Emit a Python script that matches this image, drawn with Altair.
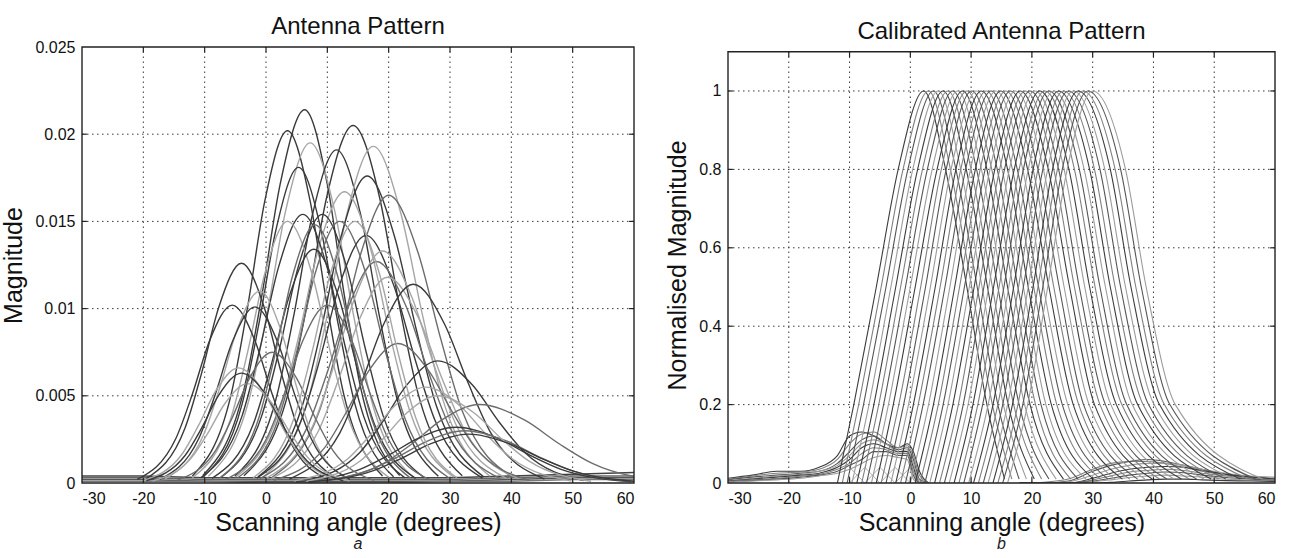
import altair as alt
import pandas as pd

FONT = "Liberation Sans"

# ---- axes ----
X_TICKS = [-30, -20, -10, 0, 10, 20, 30, 40, 50, 60]
A_Y_TICKS = [0, 0.005, 0.01, 0.015, 0.02, 0.025]
B_Y_TICKS = [0, 0.2, 0.4, 0.6, 0.8, 1]

# ---- panel a: raw beam magnitudes ----
# each beam: peak height and the angles where it passes the listed fractions of that peak
A_FRACTIONS = [0.02, 0.25, 0.5, 0.8, 1.0, 0.8, 0.5, 0.25, 0.02]
A_PEAKS = [0.0214, 0.0202, 0.0205, 0.0195, 0.0191, 0.0193, 0.0181, 0.0176, 0.0165, 0.0167,
           0.0154, 0.0154, 0.0150, 0.0150, 0.0142, 0.0133, 0.0134, 0.0127, 0.0118, 0.0114,
           0.0126, 0.0102, 0.0110, 0.0101, 0.0102, 0.0080, 0.0070, 0.0055, 0.0045, 0.0032,
           0.0030, 0.0066, 0.0063, 0.0057, 0.0075, 0.0050, 0.0028, 0.0148, 0.0150]
A_CROSSINGS = [
    [-10.3, -3.6, -0.7, 2.3, 6.3, 10.0, 12.8, 15.5, 21.8],
    [-12.0, -5.7, -3.0, -0.2, 3.5, 7.2, 10.0, 12.7, 19.0],
    [-3.6, 3.6, 6.7, 9.9, 14.2, 18.5, 21.7, 24.8, 32.0],
    [-9.4, -2.7, 0.2, 3.2, 7.2, 11.2, 14.2, 17.1, 23.8],
    [-5.1, 1.6, 4.5, 7.5, 11.5, 15.5, 18.5, 21.4, 28.1],
    [-0.3, 6.9, 10.0, 13.2, 17.5, 22.0, 25.5, 28.8, 36.5],
    [-10.2, -3.9, -1.2, 1.6, 5.3, 9.0, 11.8, 14.5, 20.8],
    [-1.3, 5.9, 9.0, 12.2, 16.5, 21.0, 24.5, 27.8, 35.5],
    [1.0, 8.7, 12.0, 15.5, 20.0, 24.8, 28.5, 32.0, 40.2],
    [-5.0, 2.2, 5.3, 8.5, 12.8, 17.1, 20.3, 23.4, 30.6],
    [-10.6, -3.9, -1.0, 2.0, 6.0, 10.0, 13.0, 15.9, 22.6],
    [-7.4, -0.7, 2.2, 5.2, 9.2, 13.2, 16.2, 19.1, 25.8],
    [-4.6, 2.1, 5.0, 8.0, 12.0, 16.3, 19.5, 22.6, 29.8],
    [-12.0, -5.7, -3.0, -0.2, 3.5, 7.5, 10.5, 13.4, 20.1],
    [-1.5, 5.7, 8.8, 12.0, 16.3, 20.8, 24.3, 27.6, 35.3],
    [0.0, 7.7, 11.0, 14.5, 19.0, 23.8, 27.5, 31.0, 39.2],
    [-8.8, -2.1, 0.8, 3.8, 7.8, 11.8, 14.8, 17.7, 24.4],
    [-1.0, 6.7, 10.0, 13.5, 18.0, 22.8, 26.5, 30.0, 38.2],
    [0.8, 8.5, 11.8, 15.3, 19.8, 24.9, 28.8, 32.5, 41.2],
    [3.8, 12.0, 15.5, 19.2, 24.0, 29.1, 33.0, 36.7, 45.4],
    [-19.5, -13.2, -10.5, -7.7, -4.0, -0.3, 2.5, 5.2, 11.5],
    [-21.0, -14.7, -12.0, -9.2, -5.5, -1.8, 1.0, 3.7, 10.0],
    [-16.5, -10.2, -7.5, -4.7, -1.0, 2.4, 5.0, 7.5, 13.3],
    [-17.3, -11.0, -8.3, -5.5, -1.8, 1.9, 4.7, 7.4, 13.7],
    [-6.6, 0.1, 3.0, 6.0, 10.0, 14.0, 17.0, 19.9, 26.6],
    [1.3, 9.5, 13.0, 16.7, 21.5, 26.6, 30.5, 34.2, 42.9],
    [6.6, 15.3, 19.0, 22.9, 28.0, 33.7, 38.0, 42.2, 51.8],
    [4.6, 13.3, 17.0, 20.9, 26.0, 31.7, 36.0, 40.2, 49.8],
    [8.7, 19.2, 23.8, 28.6, 34.8, 42.2, 47.8, 53.2, 65.7],
    [4.9, 15.4, 20.0, 24.8, 31.0, 37.8, 43.0, 48.0, 59.5],
    [6.4, 16.9, 21.5, 26.3, 32.5, 39.3, 44.5, 49.5, 61.0],
    [-20.0, -13.7, -11.0, -8.2, -4.5, -0.5, 2.5, 5.4, 12.1],
    [-19.5, -13.2, -10.5, -7.7, -4.0, 0.0, 3.0, 5.9, 12.6],
    [-18.5, -12.2, -9.5, -6.7, -3.0, 1.0, 4.0, 6.9, 13.6],
    [-14.5, -8.2, -5.5, -2.7, 1.0, 5.0, 8.0, 10.9, 17.6],
    [6.6, 15.3, 19.0, 22.9, 28.0, 34.0, 38.5, 42.9, 53.0],
    [6.9, 17.4, 22.0, 26.8, 33.0, 39.8, 45.0, 50.0, 61.5],
    [-7.5, -1.2, 1.5, 4.3, 8.0, 11.7, 14.5, 17.2, 23.5],
    [-2.1, 4.6, 7.5, 10.5, 14.5, 18.5, 21.5, 24.4, 31.1],
]
A_SHADES = "dddldldd" "mlddmldl" "dmldddld" "mmdlmdml" "dlmldml"

# residual floor running along the bottom of panel a
A_FLOOR_X = [-30, -20, -10, 0, 10, 20, 30, 40, 50, 60]
A_FLOOR = [
    [0.0004, 0.0004, 0.0003, 0.0003, 0.0003, 0.0003, 0.0003, 0.0004, 0.0005, 0.0006],
    [0.0003, 0.0003, 0.0002, 0.0002, 0.0002, 0.0002, 0.0002, 0.0003, 0.0004, 0.0004],
    [0.0002, 0.0002, 0.0001, 0.0001, 0.0001, 0.0001, 0.0001, 0.0002, 0.0003, 0.0003],
    [0.0001, 0.0001, 0.0001, 0.0000, 0.0000, 0.0000, 0.0001, 0.0001, 0.0002, 0.0002],
]

# ---- panel b: calibrated (normalised) beams ----
B_LEVELS = [0.0, 0.2, 0.5, 0.8, 1.0, 0.8, 0.5, 0.2, 0.01]
B_CROSSINGS = [
    [-12.0, -9.3, -5.6, -2.0, 2.2, 5.8, 9.3, 12.6, 15.5],
    [-11.2, -8.5, -4.8, -1.2, 3.0, 6.6, 10.1, 13.5, 16.7],
    [-10.4, -7.7, -4.0, -0.4, 3.8, 7.5, 11.0, 14.4, 17.9],
    [-9.6, -6.8, -3.2, 0.4, 4.6, 8.3, 11.8, 15.3, 19.1],
    [-8.8, -6.0, -2.4, 1.2, 5.4, 9.2, 12.7, 16.1, 20.4],
    [-8.0, -5.2, -1.6, 2.0, 6.2, 10.0, 13.5, 17.0, 21.6],
    [-7.2, -4.4, -0.8, 2.8, 7.0, 10.9, 14.4, 17.9, 22.8],
    [-6.4, -3.6, 0.0, 3.6, 7.8, 11.7, 15.2, 18.8, 24.0],
    [-5.6, -2.8, 0.8, 4.4, 8.6, 12.6, 16.0, 19.7, 25.2],
    [-4.8, -1.9, 1.7, 5.1, 9.3, 13.4, 16.9, 20.6, 26.4],
    [-4.0, -1.1, 2.5, 5.9, 10.1, 14.3, 17.7, 21.5, 27.6],
    [-3.2, -0.3, 3.3, 6.7, 10.9, 15.1, 18.6, 22.3, 28.9],
    [-2.4, 0.5, 4.1, 7.5, 11.7, 16.0, 19.4, 23.2, 30.1],
    [-1.6, 1.3, 4.9, 8.3, 12.5, 16.8, 20.3, 24.1, 31.3],
    [-0.8, 2.1, 5.7, 9.1, 13.3, 17.6, 21.1, 25.0, 32.5],
    [0.0, 3.0, 6.5, 9.9, 14.1, 18.5, 21.9, 25.9, 33.7],
    [0.8, 3.8, 7.3, 10.7, 14.9, 19.3, 22.8, 26.8, 34.9],
    [1.6, 4.6, 8.1, 11.5, 15.7, 20.2, 23.6, 27.7, 36.1],
    [2.4, 5.4, 8.9, 12.3, 16.5, 21.0, 24.5, 28.5, 37.4],
    [3.2, 6.2, 9.7, 13.1, 17.3, 21.9, 25.3, 29.4, 38.6],
    [4.0, 7.0, 10.5, 13.9, 18.1, 22.7, 26.2, 30.3, 39.8],
    [4.8, 7.9, 11.3, 14.7, 18.9, 23.6, 27.0, 31.2, 41.0],
    [5.6, 8.7, 12.1, 15.5, 19.7, 24.4, 27.8, 32.1, 42.2],
    [6.4, 9.5, 12.9, 16.3, 20.5, 25.3, 28.7, 33.0, 43.4],
    [7.2, 10.3, 13.7, 17.1, 21.3, 26.1, 29.5, 33.9, 44.6],
    [8.0, 11.1, 14.6, 17.9, 22.1, 27.0, 30.4, 34.8, 45.9],
    [8.8, 11.9, 15.4, 18.6, 22.8, 27.8, 31.2, 35.6, 47.1],
    [9.6, 12.8, 16.2, 19.4, 23.6, 28.6, 32.1, 36.5, 48.3],
    [10.4, 13.6, 17.0, 20.2, 24.4, 29.5, 32.9, 37.4, 49.5],
    [11.2, 14.4, 17.8, 21.0, 25.2, 30.3, 33.7, 38.3, 50.7],
    [12.0, 15.2, 18.6, 21.8, 26.0, 31.2, 34.6, 39.2, 51.9],
    [12.8, 16.0, 19.4, 22.6, 26.8, 32.0, 35.4, 40.1, 53.1],
    [13.6, 16.8, 20.2, 23.4, 27.6, 32.9, 36.3, 41.0, 54.3],
    [14.4, 17.7, 21.0, 24.2, 28.4, 33.7, 37.1, 41.8, 55.6],
    [15.2, 18.5, 21.8, 25.0, 29.2, 34.6, 38.0, 42.7, 56.8],
    [16.0, 19.3, 22.6, 25.8, 30.0, 35.4, 38.8, 43.6, 58.0],
]

# left-hand side lobes
B_LEFT_X = [-30, -26, -22, -18, -15, -12, -10, -8, -6, -4, -2, -0.5, 0.5, 1.5, 3.0]
B_LEFT_LOBES = [
    [0.012, 0.020, 0.030, 0.030, 0.040, 0.070, 0.120, 0.130, 0.120, 0.100, 0.090, 0.100, 0.080, 0.030, 0.0],
    [0.010, 0.018, 0.025, 0.028, 0.035, 0.060, 0.100, 0.125, 0.130, 0.110, 0.090, 0.095, 0.070, 0.020, 0.0],
    [0.008, 0.015, 0.020, 0.025, 0.030, 0.050, 0.080, 0.110, 0.120, 0.100, 0.085, 0.090, 0.060, 0.010, 0.0],
    [0.006, 0.012, 0.018, 0.022, 0.030, 0.045, 0.070, 0.100, 0.110, 0.100, 0.080, 0.085, 0.050, 0.005, 0.0],
    [0.005, 0.010, 0.015, 0.020, 0.025, 0.040, 0.060, 0.090, 0.100, 0.090, 0.080, 0.080, 0.040, 0.0, 0.0],
    [0.004, 0.008, 0.012, 0.018, 0.022, 0.035, 0.050, 0.075, 0.090, 0.085, 0.075, 0.075, 0.030, 0.0, 0.0],
    [0.003, 0.006, 0.010, 0.015, 0.020, 0.030, 0.045, 0.060, 0.080, 0.080, 0.070, 0.070, 0.020, 0.0, 0.0],
    [0.003, 0.005, 0.008, 0.012, 0.018, 0.025, 0.035, 0.050, 0.065, 0.070, 0.065, 0.060, 0.010, 0.0, 0.0],
]
# criss-cross ripple under the left lobes
B_RIPPLE_X = [-10, -7.5, -5, -2.5, 0]
B_RIPPLES = [
    [0.0, 0.04, 0.0, 0.04, 0.0],
    [0.04, 0.0, 0.04, 0.0, 0.04],
]

# right-hand side lobes
B_RIGHT_X = [18, 22, 26, 30, 33, 36, 39, 42, 45, 48, 52, 56, 60]
B_RIGHT_LOBES = [
    [0.0, 0.002, 0.010, 0.035, 0.050, 0.055, 0.055, 0.050, 0.040, 0.030, 0.020, 0.015, 0.010],
    [0.0, 0.0, 0.005, 0.030, 0.045, 0.055, 0.060, 0.055, 0.045, 0.035, 0.022, 0.015, 0.012],
    [0.0, 0.0, 0.003, 0.020, 0.035, 0.045, 0.050, 0.050, 0.045, 0.035, 0.025, 0.018, 0.015],
    [0.0, 0.0, 0.0, 0.012, 0.025, 0.035, 0.040, 0.042, 0.040, 0.032, 0.022, 0.015, 0.010],
    [0.0, 0.0, 0.0, 0.008, 0.018, 0.028, 0.032, 0.035, 0.032, 0.025, 0.018, 0.012, 0.008],
    [0.0, 0.0, 0.0, 0.005, 0.012, 0.020, 0.025, 0.028, 0.026, 0.020, 0.014, 0.010, 0.006],
    [0.0, 0.0, 0.0, 0.003, 0.008, 0.014, 0.018, 0.020, 0.018, 0.015, 0.010, 0.007, 0.005],
    [0.0, 0.0, 0.0, 0.0, 0.002, 0.005, 0.008, 0.010, 0.010, 0.008, 0.006, 0.005, 0.004],
]

GREYS = {"d": "#3a3a3a", "m": "#6c6c6c", "l": "#a6a6a6"}
B_CYCLE = ["#3c3c3c", "#808080", "#555555", "#9c9c9c"]
INK = "#222222"


def rows_from(xs_list, ys_list, prefix, colours):
    rows = []
    for i, (xs, ys) in enumerate(zip(xs_list, ys_list)):
        for x, y in zip(xs, ys):
            rows.append({"x": x, "y": y, "id": f"{prefix}{i}", "c": colours[i]})
    return rows


# table for panel a
a_rows = []
for i, (peak, xs) in enumerate(zip(A_PEAKS, A_CROSSINGS)):
    for x, f in zip(xs, A_FRACTIONS):
        a_rows.append({"x": x, "y": peak * f, "id": f"a{i}", "c": GREYS[A_SHADES[i]]})
a_curves = pd.DataFrame(a_rows)
a_floor = pd.DataFrame(rows_from([A_FLOOR_X] * len(A_FLOOR), A_FLOOR, "f", ["#444444", "#666666", "#555555", "#777777"]))

# tables for panel b
b_curves = pd.DataFrame(rows_from(B_CROSSINGS, [B_LEVELS] * len(B_CROSSINGS), "b",
                                  [B_CYCLE[i % 4] for i in range(len(B_CROSSINGS))]))
b_side = pd.DataFrame(
    rows_from([B_LEFT_X] * len(B_LEFT_LOBES), B_LEFT_LOBES, "L", [B_CYCLE[i % 4] for i in range(len(B_LEFT_LOBES))])
    + rows_from([B_RIGHT_X] * len(B_RIGHT_LOBES), B_RIGHT_LOBES, "R", [B_CYCLE[(i + 1) % 4] for i in range(len(B_RIGHT_LOBES))])
)
b_ripple = pd.DataFrame(rows_from([B_RIPPLE_X] * 2, B_RIPPLES, "z", ["#b0b0b0", "#b0b0b0"]))


def panel(ymax, frame_top, yticks, ytitle, title, title_offset, width, height, layers, letter):
    """One framed axes box; the scale may run a little past the frame top."""
    x_enc = alt.X("x:Q", scale=alt.Scale(domain=[-30, 60], nice=False, zero=False),
                  axis=alt.Axis(values=X_TICKS, title="Scanning angle (degrees)",
                                labelExpr="'' + datum.value"))
    y_enc = alt.Y("y:Q", scale=alt.Scale(domain=[0, ymax], nice=False, zero=False),
                  axis=alt.Axis(values=yticks, title=ytitle, format="~g"))

    # dotted grid inside the frame
    grid_rows = [{"x": v, "x2": v, "y": 0, "y2": frame_top} for v in X_TICKS[1:-1]]
    grid_rows += [{"x": -30, "x2": 60, "y": v, "y2": v} for v in yticks[1:] if v < frame_top]
    grid = alt.Chart(pd.DataFrame(grid_rows)).mark_rule(
        color="#3a3a3a", strokeWidth=1, strokeDash=[1.5, 3.5]
    ).encode(x=x_enc, x2="x2:Q", y=y_enc, y2="y2:Q")

    drawn = []
    for df, interp, width_px in layers:
        drawn.append(
            alt.Chart(df).mark_line(interpolate=interp, strokeWidth=width_px, clip=True).encode(
                x=x_enc, y=y_enc, detail="id:N", color=alt.Color("c:N", scale=None)
            )
        )

    # short inward ticks on all four sides of the frame
    tx = 0.8
    ty = ymax * 0.012
    tick_rows = []
    for v in X_TICKS[1:-1]:
        tick_rows.append({"x": v, "x2": v, "y": 0, "y2": ty})
        tick_rows.append({"x": v, "x2": v, "y": frame_top, "y2": frame_top - ty})
    for v in yticks[1:]:
        if v < frame_top:
            tick_rows.append({"x": -30, "x2": -30 + tx, "y": v, "y2": v})
            tick_rows.append({"x": 60, "x2": 60 - tx, "y": v, "y2": v})
    ticks = alt.Chart(pd.DataFrame(tick_rows)).mark_rule(color=INK, strokeWidth=1.2).encode(
        x=x_enc, x2="x2:Q", y=y_enc, y2="y2:Q"
    )

    frame = alt.Chart(pd.DataFrame({"x": [-30], "x2": [60], "y": [0], "y2": [frame_top]})).mark_rect(
        fillOpacity=0, stroke=INK, strokeWidth=1.4
    ).encode(x=x_enc, x2="x2:Q", y=y_enc, y2="y2:Q")

    label = alt.Chart(pd.DataFrame({"t": [letter]})).mark_text(
        font=FONT, fontSize=16, fontStyle="italic", color=INK, baseline="middle"
    ).encode(text="t:N", x=alt.value(width / 2), y=alt.value(height + 61))

    return alt.layer(grid, *drawn, ticks, frame, label).properties(
        width=width, height=height,
        title=alt.Title(title, font=FONT, fontSize=24, fontWeight="normal", color="#111111",
                        anchor="middle", offset=title_offset),
    )


left = panel(0.025, 0.025, A_Y_TICKS, "Magnitude", "Antenna Pattern", 0, 552, 436,
             [(a_floor, "linear", 1.4), (a_curves, "monotone", 1.4)], "a")
right = panel(1.1122, 1.1, B_Y_TICKS, "Normalised Magnitude", "Calibrated Antenna Pattern", 3, 547, 436,
              [(b_ripple, "linear", 1.0), (b_side, "monotone", 1.1), (b_curves, "monotone", 1.1)], "b")

chart = alt.hconcat(left, right, spacing=29).properties(
    padding={"left": 1, "top": 14, "right": 0, "bottom": 0}
).configure_view(
    stroke="transparent"
).configure_axis(
    grid=False, ticks=False, domain=False,
    labelFont=FONT, labelFontSize=16, labelColor="#111111", labelPadding=7,
    titleFont=FONT, titleFontSize=25, titleFontWeight="normal", titleColor="#111111",
).configure_axisY(titlePadding=8).configure_axisX(titlePadding=4)

chart.save("out.html", embed_options={"renderer": "svg", "actions": False})
